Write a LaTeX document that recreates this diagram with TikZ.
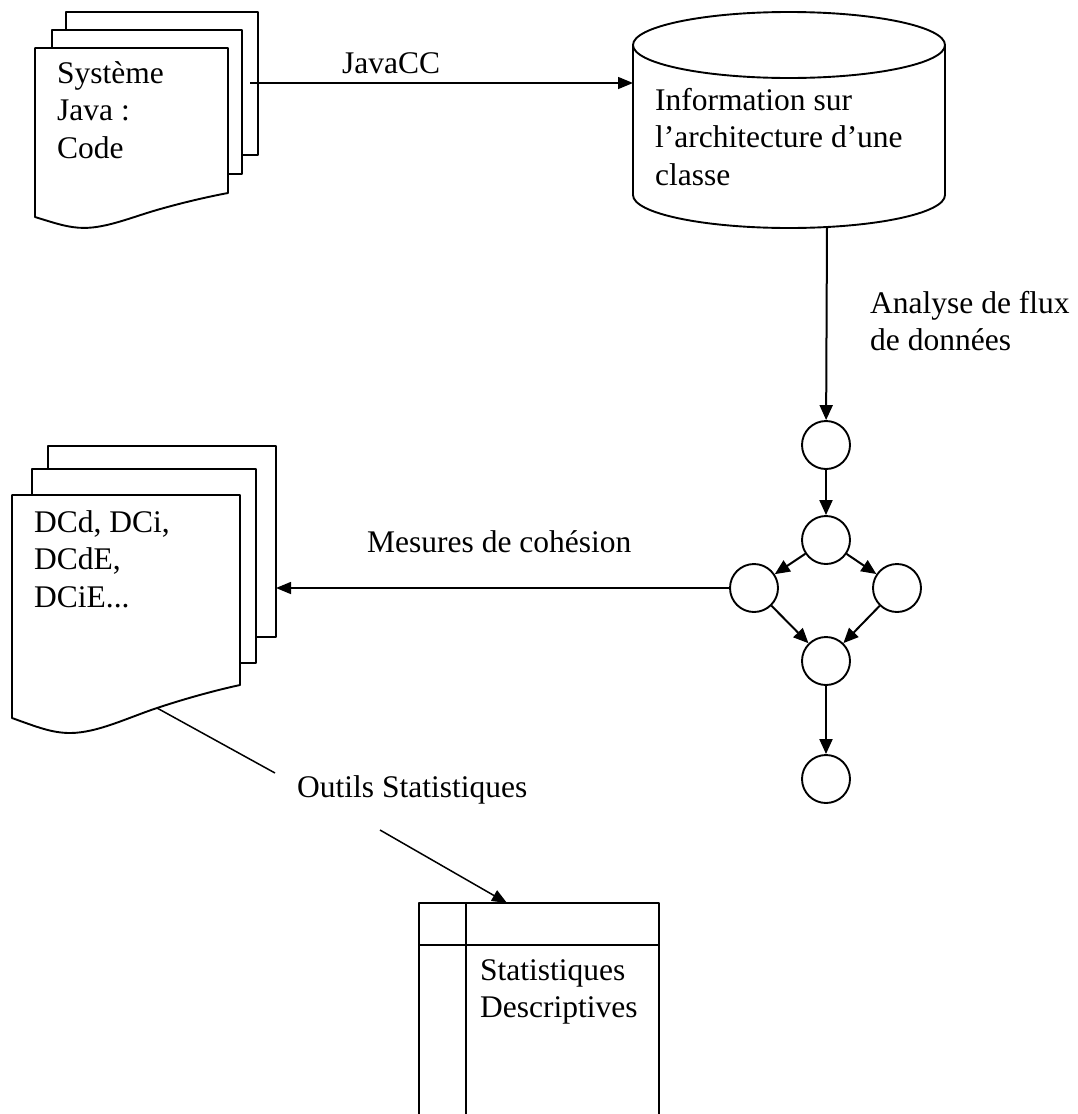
\documentclass[tikz,border=0pt]{standalone}
\usepackage{fontspec}
\setmainfont{Liberation Serif}
\usetikzlibrary{arrows.meta}
\tikzset{
  shapeline/.style={line width=1.9pt, line join=round},
  conn/.style={line width=1.5pt},
  arr/.style={conn, -{Triangle[length=15pt,width=12pt]}},
  garr/.style={line width=2pt, -{Triangle[length=15pt,width=13pt]}},
  lbl/.style={font=\fontsize{31.5}{37.5}\selectfont, inner sep=0pt, anchor=base west},
  state/.style={circle, draw, line width=1.9pt, minimum size=48pt, inner sep=0pt, fill=white},
}
% L T R yR yL
\newcommand{\docfront}[5]{%
  \pgfmathsetmacro{\dsx}{(#3-#1)/228}%
  \pgfmathsetmacro{\dsy}{(#5-#4)/33}%
  \draw[shapeline,fill=white] (#1,#2) -- (#3,#2) -- (#3,#4)
   .. controls ({#1+205*\dsx},{#5-28*\dsy}) and ({#1+175*\dsx},{#5-20*\dsy}) .. ({#1+145*\dsx},{#5-10*\dsy})
   .. controls ({#1+115*\dsx},{#5}) and ({#1+85*\dsx},{#5+15*\dsy}) .. ({#1+58*\dsx},{#5+15*\dsy})
   .. controls ({#1+40*\dsx},{#5+15*\dsy}) and ({#1+25*\dsx},{#5+9*\dsy}) .. (#1,#5) -- cycle;}
\begin{document}
\begin{tikzpicture}[x=1pt,y=-1pt]
\useasboundingbox (0,0) rectangle (1078,1114);

% ---------- document stack 1 (Java code)
\draw[shapeline,fill=white] (66,12) rectangle (258,155);
\draw[shapeline,fill=white] (52,30) rectangle (242,174);
\docfront{35}{48}{228}{193}{217}
\node[lbl] (code) at (57,83) {\begin{tabular}[t]{@{}l@{}}Système\\Java :\\Code\end{tabular}};
\coordinate (codeout) at (250,83);

% ---------- cylinder
\draw[shapeline,fill=white] (633,45) -- (633,195)
  arc[start angle=180, end angle=360, x radius=156pt, y radius=33pt] -- (945,45);
\draw[shapeline] (789,45) ellipse [x radius=156pt, y radius=33pt];
\node[lbl] (info) at (655,110) {\begin{tabular}[t]{@{}l@{}}Information sur\\l’architecture d’une\\classe\end{tabular}};
\coordinate (cylin) at (633,83);
\coordinate (cylout) at (827,227);

\draw[arr] (codeout) -- (cylin);
\node[lbl] (javacc) at (342,73) {JavaCC};

% ---------- flow graph
\node[state] (c1) at (826,445) {};
\node[state] (c2) at (826,540) {};
\node[state] (cl) at (754,588) {};
\node[state] (cr) at (897,588) {};
\node[state] (c3) at (826,661) {};
\node[state] (c4) at (826,779) {};

\draw[garr] (cylout) -- (c1);
\node[lbl] (analyse) at (870,313) {\begin{tabular}[t]{@{}l@{}}Analyse de flux\\de données\end{tabular}};
\draw[garr] (c1) -- (c2);
\draw[garr] (c2) -- (cl);
\draw[garr] (c2) -- (cr);
\draw[garr] (cl) -- (c3);
\draw[garr] (cr) -- (c3);
\draw[garr] (c3) -- (c4);

% ---------- document stack 2 (measures)
\draw[shapeline,fill=white] (48,446) rectangle (276,637);
\draw[shapeline,fill=white] (32,469) rectangle (256,663);
\docfront{12}{495}{240}{685}{718}
\node[lbl] (dc) at (34,532) {\begin{tabular}[t]{@{}l@{}}DCd, DCi,\\DCdE,\\DCiE...\end{tabular}};
\coordinate (docin) at (276,588);
\draw[arr] (cl) -- (docin);
\node[lbl] (mesures) at (367,552) {Mesures de cohésion};

% ---------- table
\draw[shapeline] (419,1114) -- (419,903) -- (659,903) -- (659,1114);
\draw[shapeline] (466,903) -- (466,1114);
\draw[shapeline] (419,945) -- (659,945);
\node[lbl] (stats) at (480,980) {\begin{tabular}[t]{@{}l@{}}Statistiques\\Descriptives\end{tabular}};

% ---------- statistical tools connector
\coordinate (o1) at (157,708);
\coordinate (o2) at (275,773);
\coordinate (o3) at (380,830);
\coordinate (tblin) at (507,903);
\node[lbl] (outils) at (297,797) {Outils Statistiques};
\draw[conn] (o1) -- (o2);
\draw[arr] (o3) -- (tblin);
\end{tikzpicture}
\end{document}
